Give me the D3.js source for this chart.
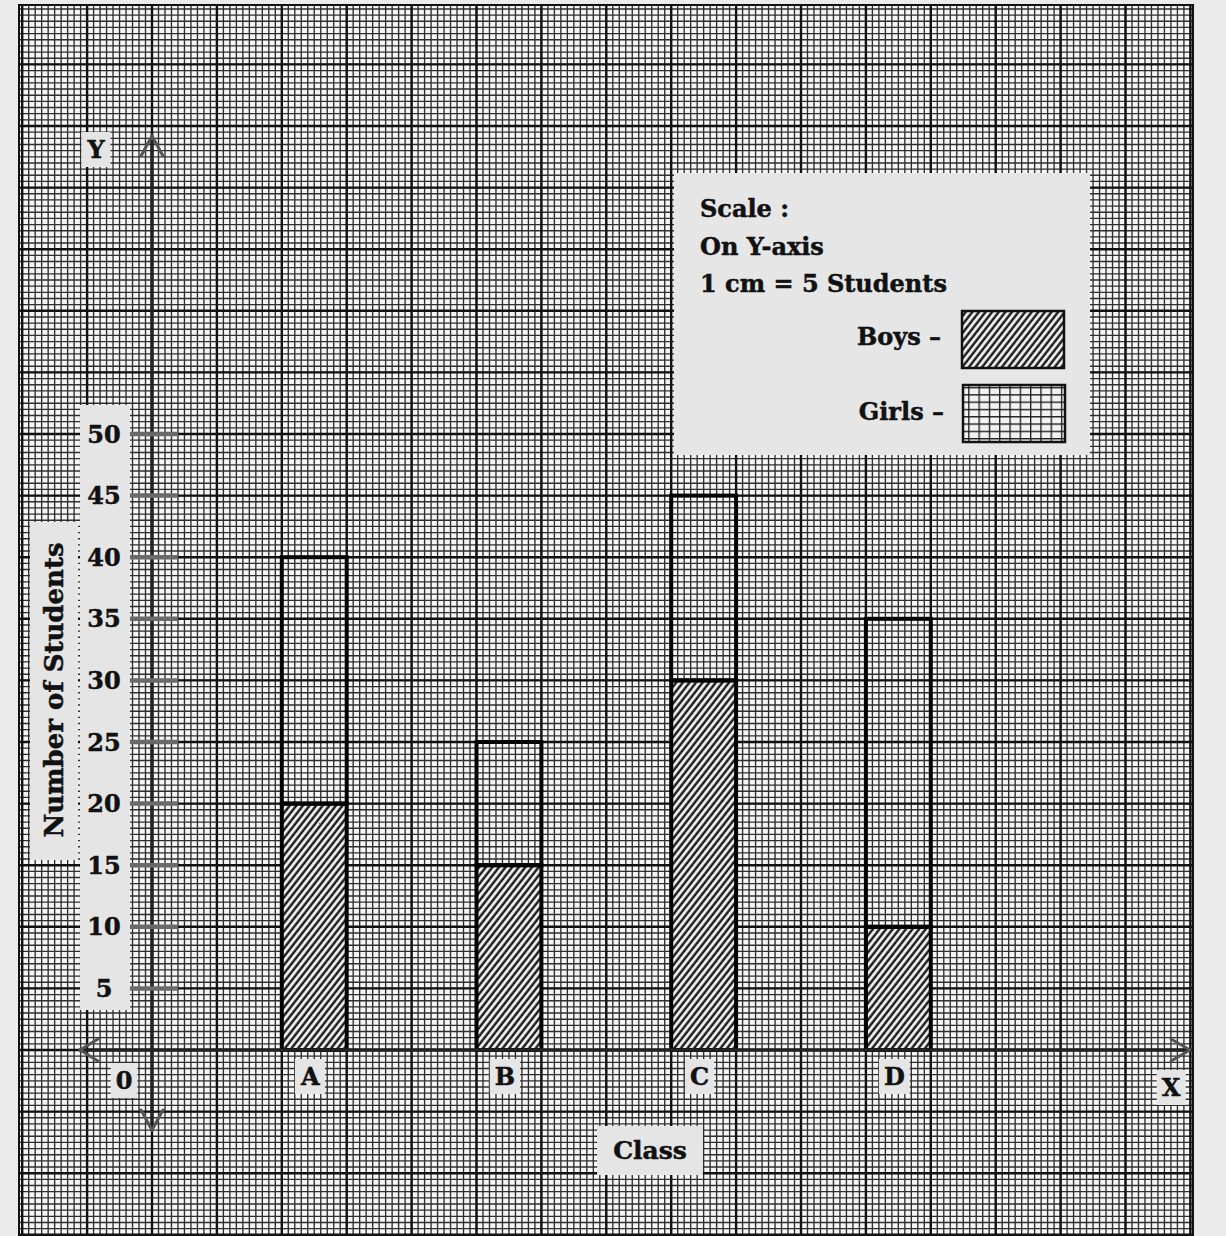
<!DOCTYPE html>
<html>
<head>
<meta charset="utf-8">
<script src="https://cdn.jsdelivr.net/npm/d3@7"></script>
<style>
  body { margin: 0; background: #ebebeb; }
  svg { display: block; }
  text { font-family: "DejaVu Serif", "Liberation Serif", serif; font-weight: bold; fill: #111; stroke: #111; stroke-width: 0.5; }
</style>
</head>
<body>
<script>
// data
var classes = ["A", "B", "C", "D"];
var boys = [20, 15, 30, 10];
var girls = [20, 10, 15, 25];
var yTicks = [5, 10, 15, 20, 25, 30, 35, 40, 45, 50];
var scaleLines = ["Scale :", "On Y-axis", "1 cm = 5 Students"];
var legendItems = ["Boys –", "Girls –"];

var width = 1226, height = 1236;
var paper = { x0: 19, x1: 1193, y0: 5, y1: 1240 };

// x in cm along the axis, y in students
var xCm = d3.scaleLinear().domain([0, 1]).range([152, 216.9]);
var y = d3.scaleLinear().domain([0, 50]).range([1050, 434]);
var xClass = d3.scalePoint().domain(classes).range([xCm(2.5), xCm(11.5)]);
var barW = xCm(1) - xCm(0);

var svg = d3.select("body").append("svg")
  .attr("width", width)
  .attr("height", height);

var defs = svg.append("defs");
defs.append("clipPath").attr("id", "paper-clip")
  .append("rect")
  .attr("x", paper.x0).attr("y", paper.y0)
  .attr("width", paper.x1 - paper.x0).attr("height", paper.y1 - paper.y0);

var hatch = defs.append("pattern")
  .attr("id", "boys-hatch")
  .attr("patternUnits", "userSpaceOnUse")
  .attr("width", 5.2).attr("height", 5.2)
  .attr("patternTransform", "rotate(38)");
hatch.append("rect").attr("width", 5.2).attr("height", 5.2).attr("fill", "#f0f0f0");
hatch.append("line").attr("x1", 1.5).attr("y1", 0).attr("x2", 1.5).attr("y2", 5.2)
  .attr("stroke", "#1a1a1a").attr("stroke-width", 2.4);

var gridCell = defs.append("pattern")
  .attr("id", "girls-grid")
  .attr("patternUnits", "userSpaceOnUse")
  .attr("width", 10.3).attr("height", 7.3);
gridCell.append("rect").attr("width", 10.3).attr("height", 7.3).attr("fill", "#f2f2f2");
gridCell.append("path").attr("d", "M0,0.6H10.3M0.6,0V7.3")
  .attr("stroke", "#1a1a1a").attr("stroke-width", 1.4);

// paper
svg.append("rect")
  .attr("x", paper.x0).attr("y", paper.y0)
  .attr("width", paper.x1 - paper.x0).attr("height", paper.y1 - paper.y0)
  .attr("fill", "#f5f5f5");

var grid = svg.append("g").attr("clip-path", "url(#paper-clip)");

// minor lines: 1 mm across, half a student up
var minorX = d3.range(-23, 162).map(function(d) { return d / 10; });
var minorY = d3.range(-40, 172).map(function(d) { return d / 2; });
var majorX = d3.range(-3, 17);
var majorY = d3.range(-20, 90, 5);

grid.selectAll(".minor-x").data(minorX).enter().append("line")
  .attr("class", "minor-x")
  .attr("x1", function(d) { return xCm(d); })
  .attr("x2", function(d) { return xCm(d); })
  .attr("y1", paper.y0).attr("y2", paper.y1)
  .attr("stroke", "#2e2e2e").attr("stroke-width", 1.35);

grid.selectAll(".minor-y").data(minorY).enter().append("line")
  .attr("class", "minor-y")
  .attr("y1", function(d) { return y(d); })
  .attr("y2", function(d) { return y(d); })
  .attr("x1", paper.x0).attr("x2", paper.x1)
  .attr("stroke", "#2e2e2e").attr("stroke-width", 1.35);

grid.selectAll(".major-x").data(majorX).enter().append("line")
  .attr("class", "major-x")
  .attr("x1", function(d) { return xCm(d); })
  .attr("x2", function(d) { return xCm(d); })
  .attr("y1", paper.y0).attr("y2", paper.y1)
  .attr("stroke", "#111").attr("stroke-width", 2.4);

grid.selectAll(".major-y").data(majorY).enter().append("line")
  .attr("class", "major-y")
  .attr("y1", function(d) { return y(d); })
  .attr("y2", function(d) { return y(d); })
  .attr("x1", paper.x0).attr("x2", paper.x1)
  .attr("stroke", "#111").attr("stroke-width", 2.4);

svg.append("rect")
  .attr("x", paper.x0).attr("y", paper.y0)
  .attr("width", paper.x1 - paper.x0).attr("height", paper.y1 - paper.y0)
  .attr("fill", "none").attr("stroke", "#111").attr("stroke-width", 2);

// bars: boys at the bottom, girls stacked on top
var bars = svg.append("g").attr("class", "bars");
classes.forEach(function(c, i) {
  var x0 = xClass(c) - barW / 2;
  bars.append("rect")
    .attr("x", x0).attr("y", y(boys[i]))
    .attr("width", barW).attr("height", y(0) - y(boys[i]))
    .attr("fill", "url(#boys-hatch)")
    .attr("stroke", "#000").attr("stroke-width", 4);
  bars.append("rect")
    .attr("x", x0).attr("y", y(boys[i] + girls[i]))
    .attr("width", barW).attr("height", y(boys[i]) - y(boys[i] + girls[i]))
    .attr("fill", "none")
    .attr("stroke", "#000").attr("stroke-width", 4);
});

// label helper: text on a light box
function boxedText(g, str, x, yy, opts) {
  opts = opts || {};
  var t = g.append("text")
    .attr("x", x).attr("y", yy)
    .attr("font-size", opts.size || 24)
    .attr("text-anchor", "middle")
    .text(str);
  var b = t.node().getBBox();
  var px = opts.padX == null ? 5 : opts.padX, py = opts.padY == null ? 3 : opts.padY;
  g.insert("rect", function() { return t.node(); })
    .attr("fill", "#e5e5e5")
    .attr("x", b.x - px).attr("y", b.y - py)
    .attr("width", b.width + 2 * px).attr("height", b.height + 2 * py);
  return t;
}

var labels = svg.append("g");

// tick label strip
labels.append("rect")
  .attr("x", 80).attr("y", 405).attr("width", 50).attr("height", 605)
  .attr("fill", "#e5e5e5");
labels.selectAll(".tick-label").data(yTicks).enter().append("text")
  .attr("class", "tick-label")
  .attr("x", 104)
  .attr("y", function(d) { return y(d); })
  .attr("dy", "0.36em")
  .attr("font-size", 24)
  .attr("text-anchor", "middle")
  .text(function(d) { return d; });

// y title
labels.append("rect")
  .attr("x", 30).attr("y", 522).attr("width", 48).attr("height", 338)
  .attr("fill", "#e5e5e5");
labels.append("text")
  .attr("transform", "translate(63,690) rotate(-90)")
  .attr("font-size", 26)
  .attr("text-anchor", "middle")
  .text("Number of Students");

// axes
var axis = svg.append("g")
  .attr("stroke", "#222").attr("stroke-width", 3.5).attr("fill", "none")
  .attr("stroke-linecap", "round").attr("stroke-linejoin", "round");
axis.append("line").attr("x1", xCm(0)).attr("x2", xCm(0)).attr("y1", 136).attr("y2", 1130);
axis.append("line").attr("x1", 80).attr("x2", paper.x1 - 2).attr("y1", y(0)).attr("y2", y(0));
var arrows = svg.append("g")
  .attr("stroke", "#555").attr("stroke-width", 3).attr("fill", "none")
  .attr("stroke-linecap", "round").attr("stroke-linejoin", "round");
arrows.append("path").attr("d", "M" + (xCm(0) - 11) + ",156L" + xCm(0) + ",136L" + (xCm(0) + 11) + ",156");
arrows.append("path").attr("d", "M" + (xCm(0) - 11) + ",1110L" + xCm(0) + ",1130L" + (xCm(0) + 11) + ",1110");
arrows.append("path").attr("d", "M98," + (y(0) - 11) + "L80," + y(0) + "L98," + (y(0) + 11));
arrows.append("path").attr("d", "M" + (paper.x1 - 22) + "," + (y(0) - 11) + "L" + (paper.x1 - 3) + "," + y(0) + "L" + (paper.x1 - 22) + "," + (y(0) + 11));

svg.append("g").selectAll(".tick").data(yTicks).enter().append("line")
  .attr("class", "tick")
  .attr("x1", 130).attr("x2", 178)
  .attr("y1", function(d) { return y(d); })
  .attr("y2", function(d) { return y(d); })
  .attr("stroke", "#6a6a6a").attr("stroke-width", 4.5);

// axis letters and class names
boxedText(labels, "Y", 96, 158, { size: 24 });
boxedText(labels, "0", 124, 1089, { size: 24 });
boxedText(labels, "X", 1171, 1096, { size: 24 });
classes.forEach(function(c) {
  boxedText(labels, c, xClass(c) - 4, 1085, { size: 24 });
});
boxedText(labels, "Class", 650, 1159, { size: 25, padX: 16, padY: 10 });

// scale box and legend
var legend = svg.append("g");
legend.append("rect")
  .attr("x", 674).attr("y", 173).attr("width", 416).attr("height", 282)
  .attr("fill", "#e6e6e6");
legend.selectAll(".scale-line").data(scaleLines).enter().append("text")
  .attr("class", "scale-line")
  .attr("x", 700)
  .attr("y", function(d, i) { return 217 + i * 37.5; })
  .attr("font-size", 24)
  .text(function(d) { return d; });
legend.selectAll(".legend-label").data(legendItems).enter().append("text")
  .attr("class", "legend-label")
  .attr("x", function(d, i) { return 941 + i * 3; })
  .attr("y", function(d, i) { return 345 + i * 75; })
  .attr("font-size", 24)
  .attr("text-anchor", "end")
  .text(function(d) { return d; });
legend.selectAll(".legend-swatch").data(legendItems).enter().append("rect")
  .attr("class", "legend-swatch")
  .attr("x", function(d, i) { return 962 + i; })
  .attr("y", function(d, i) { return 311 + i * 74; })
  .attr("width", 102).attr("height", 57)
  .attr("fill", function(d, i) { return i == 0 ? "url(#boys-hatch)" : "url(#girls-grid)"; })
  .attr("stroke", "#111").attr("stroke-width", 2.5);
</script>
</body>
</html>
